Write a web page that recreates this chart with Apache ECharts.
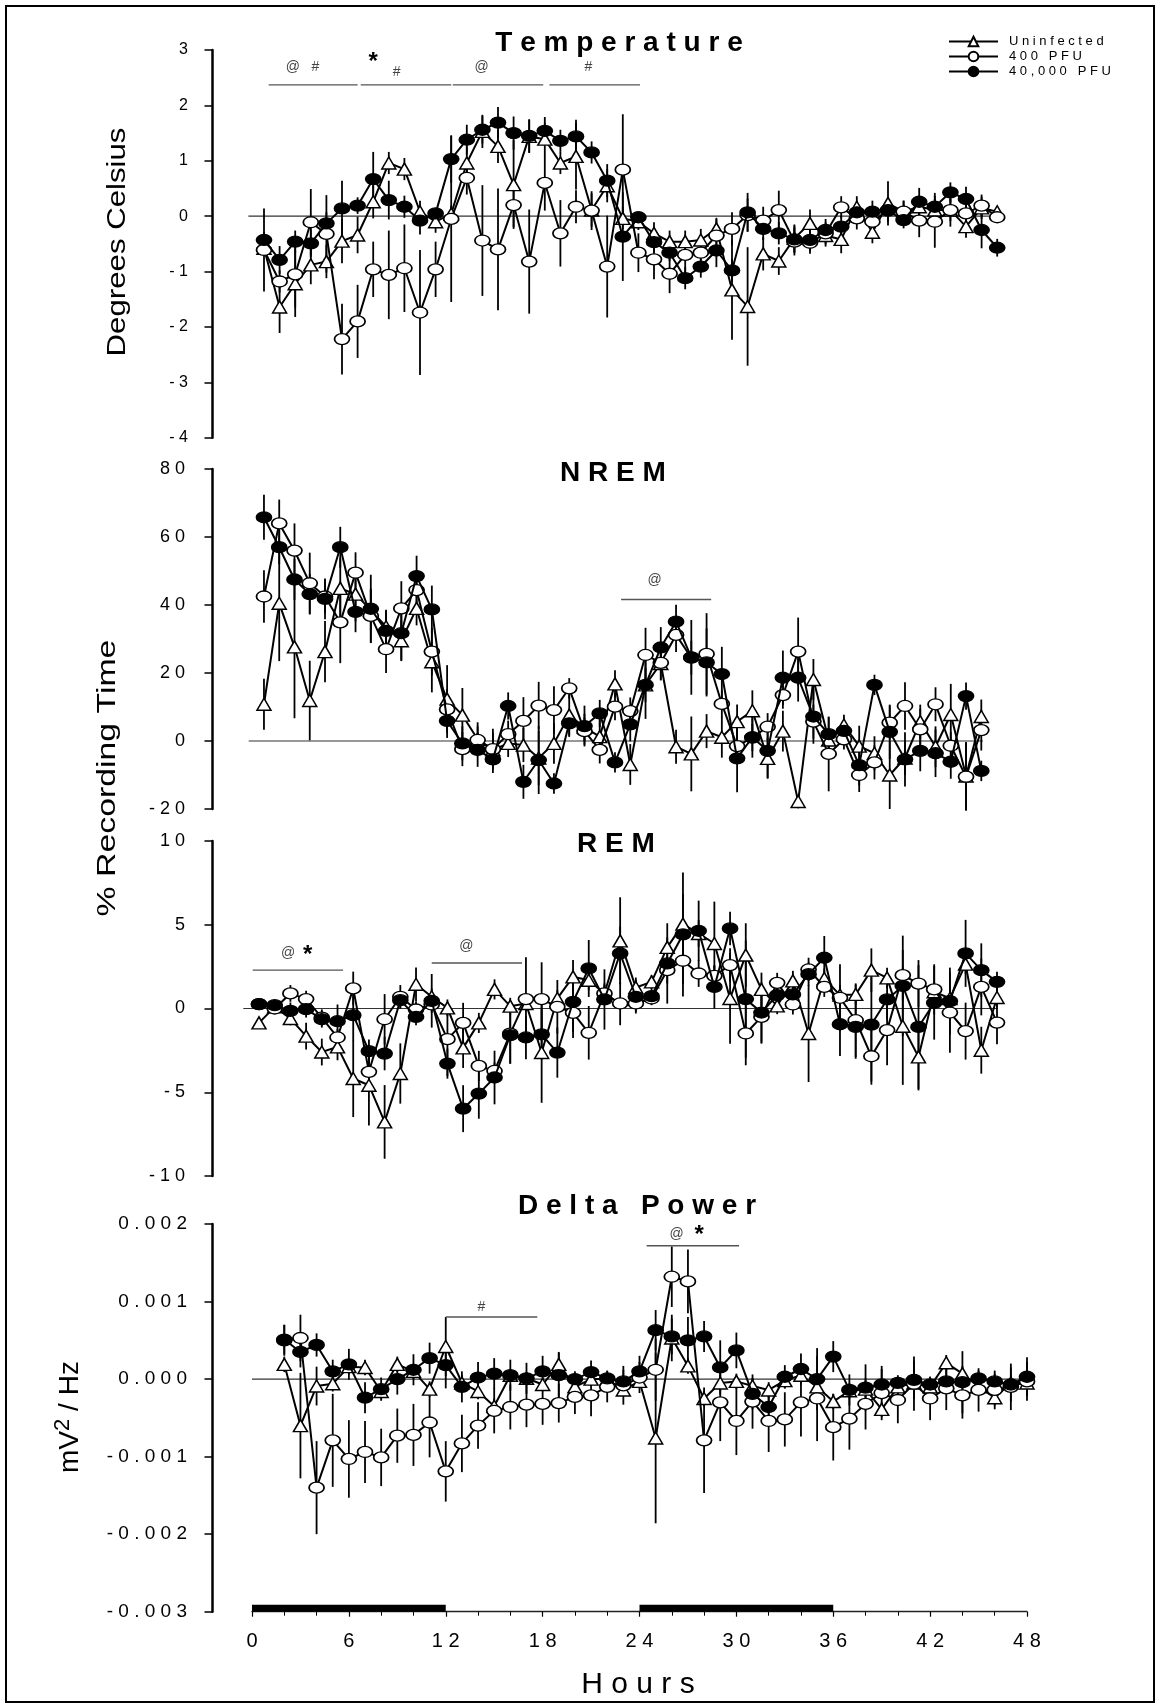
<!DOCTYPE html>
<html>
<head>
<meta charset="utf-8">
<script src="https://cdn.jsdelivr.net/npm/echarts@6/dist/echarts.min.js"></script>
<style>
  html, body { margin: 0; padding: 0; background: #fff; }
  #chart { width: 1157px; height: 1705px; }
</style>
</head>
<body>
<div id="chart"></div>
<script>
// ---- sampling times (hours post infection) ----
const hours = [1,2,3,4,5,6,7,8,9,10,11,12,13,14,15,16,17,18,19,20,21,22,23,24,
               25,26,27,28,29,30,31,32,33,34,35,36,37,38,39,40,41,42,43,44,45,46,47,48];
const deltaHours = [2,3,4,5,6,7,8,9,10,11,12,13,14,15,16,17,18,19,20,21,22,23,24,
                    25,26,27,28,29,30,31,32,33,34,35,36,37,38,39,40,41,42,43,44,45,46,47,48];
const groupNames = ['Uninfected', '400 PFU', '40,000 PFU'];
const hourTicks = [0, 6, 12, 18, 24, 30, 36, 42, 48];
const darkPeriods = [[0, 12], [24, 36]];

// ---- Temperature (degrees Celsius, change from baseline) ----
const tempUninfected = [-0.58,-1.64,-1.22,-0.88,-0.82,-0.45,-0.34,0.26,0.96,0.85,
  0.08,-0.10,0.04,0.96,1.53,1.26,0.57,1.44,1.39,0.96,
  1.08,0.11,0.55,-0.04,-0.10,-0.31,-0.46,-0.46,-0.43,-0.23,
  -1.33,-1.63,-0.68,-0.81,-0.40,-0.13,-0.35,-0.42,0.16,-0.29,
  0.23,0.08,0.17,0.11,0.11,-0.19,0.15,0.08];
const temp400 = [-0.61,-1.18,-1.05,-0.11,-0.32,-2.22,-1.90,-0.96,-1.06,-0.94,
  -1.74,-0.96,-0.05,0.69,-0.44,-0.60,0.20,-0.82,0.60,-0.31,
  0.17,0.10,-0.91,0.84,-0.66,-0.78,-1.04,-0.70,-0.66,-0.35,
  -0.23,0.02,-0.08,0.11,-0.46,-0.48,-0.31,0.16,-0.04,-0.10,
  0.11,0.08,-0.08,-0.10,0.11,0.05,0.19,-0.02];
const temp40000 = [-0.43,-0.79,-0.46,-0.49,-0.13,0.14,0.19,0.67,0.29,0.17,
  -0.08,0.05,1.03,1.38,1.56,1.69,1.50,1.45,1.54,1.36,
  1.44,1.15,0.64,-0.37,-0.02,-0.47,-0.66,-1.12,-0.91,-0.62,
  -0.98,0.07,-0.23,-0.31,-0.42,-0.43,-0.25,-0.19,0.07,0.08,
  0.10,-0.07,0.26,0.17,0.43,0.31,-0.25,-0.57];
const tempUninfectedSem = [0.10,0.47,0.60,0.35,0.30,0.40,0.33,0.30,0.20,0.20,
  0.20,0.20,0.15,0.30,0.30,0.30,0.80,0.30,0.30,0.20,
  0.60,0.30,0.30,0.20,0.15,0.20,0.20,0.20,0.20,0.20,
  0.90,1.07,0.30,0.25,0.25,0.25,0.20,0.25,0.20,0.20,
  0.40,0.20,0.20,0.20,0.20,0.20,0.20,0.10];
const temp400Sem = [0.75,0.20,0.60,0.60,0.70,0.64,0.66,0.50,0.80,0.79,
  1.13,0.50,1.50,0.30,1.00,1.10,0.40,0.94,0.50,0.60,
  0.30,0.35,0.92,1.00,0.35,0.36,0.35,0.35,0.30,0.30,
  0.30,0.30,0.25,0.35,0.25,0.20,0.20,0.20,0.20,0.20,
  0.20,0.20,0.30,0.47,0.30,0.20,0.20,0.10];
const temp40000Sem = [0.15,0.25,0.20,0.25,0.20,0.50,0.15,0.49,0.35,0.20,
  0.25,0.10,0.43,0.27,0.25,0.28,0.30,0.30,0.25,0.20,
  0.30,0.20,0.30,0.80,0.10,0.20,0.15,0.20,0.20,0.30,
  0.20,0.35,0.20,0.20,0.25,0.20,0.20,0.20,0.20,0.20,
  0.20,0.15,0.25,0.25,0.18,0.22,0.33,0.16];

// ---- NREM sleep (% recording time, change from baseline) ----
const nremUninfected = [10.8,40.5,27.7,11.9,26.3,44.9,43.2,38.5,33.6,29.5,
  39.0,23.3,12.3,7.6,0.5,-2.6,-0.7,-1.2,-5.0,-0.7,
  7.6,4.0,1.3,16.8,-6.9,16.5,22.8,-1.7,-3.8,2.9,
  1.1,5.7,8.9,-5.1,2.9,-17.8,18.1,0.3,4.7,-1.5,
  -3.6,-10.0,-5.0,5.7,-1.7,7.8,-10.3,7.2];
const nrem400 = [42.5,64.0,56.0,46.4,42.5,34.9,49.5,36.8,27.0,39.0,
  44.4,26.3,9.3,-2.4,0.3,-2.4,2.0,5.9,10.4,9.1,
  15.5,2.9,-2.6,10.1,8.8,25.3,23.0,31.2,24.5,25.6,
  10.9,-1.5,1.0,4.2,13.5,26.3,5.7,-3.8,0.5,-10.0,
  -6.3,5.4,10.3,3.4,10.8,-1.4,-10.5,3.2];
const nrem40000 = [65.8,57.0,47.5,43.2,41.8,57.0,38.0,38.9,32.4,31.7,
  48.5,38.7,5.9,-0.7,-2.6,-5.4,10.3,-12.0,-5.6,-12.5,
  5.2,4.4,8.1,-6.3,4.9,16.5,27.5,35.1,24.6,23.1,
  19.7,-5.1,1.1,-2.9,18.6,18.6,7.2,2.0,3.0,-7.1,
  16.5,2.7,-5.4,-2.9,-3.6,-6.1,13.2,-8.8];
const nremUninfectedSem = [7.5,17,21,11.7,9,9,8,6,5,6,
  5,9,10,8,5,5,4,5,8,6,
  6,4,5,4,6,5,5,5,11,5,
  6,5,6,6,6,2,6,3,3,6,
  5,10,5,5,6,9,10,5];
const nrem400Sem = [7.7,7,8,9,5,12,6,8,7,8,
  5,7,6,5,4,6,4,7,7,7,
  3,4,4,4,4,8,5,5,5,12,
  4,5,4,4,4,10,5,11,3,5,
  5,5,7,6,5,4,10,6];
const nrem40000Sem = [6.6,5,6,6,6,6,6,10,6,8,
  6,7,5,5,5,4,4,5,10,3,
  4,6,4,3,5,10,6,5,11,10,
  8,10,6,8,8,7,8,5,3,6,
  3,8,8,6,7,5,4,3];

// ---- REM sleep (% recording time, change from baseline) ----
const remUninfected = [-0.86,0.10,-0.60,-1.65,-2.60,-2.29,-4.18,-4.58,-6.77,-3.88,
  1.45,0.70,0.04,-2.35,-0.86,1.14,0.14,0.30,-2.63,0.60,
  1.89,1.69,0.90,4.04,1.25,1.59,3.65,5.04,4.48,3.88,
  0.60,3.19,1.14,0.16,1.65,-1.49,1.79,0.80,0.84,2.29,
  1.83,-1.06,-2.89,1.00,0.60,2.65,-2.49,0.66];
const rem400 = [0.26,0.00,0.90,0.56,-0.55,-1.73,1.20,-3.78,-0.64,0.70,
  -0.06,0.24,-1.83,-0.86,-3.43,-3.73,-1.50,0.56,0.56,0.10,
  -0.26,-1.45,0.90,0.30,0.30,0.60,2.29,2.85,2.09,1.95,
  2.59,-1.49,-0.50,1.53,0.24,2.33,1.29,0.64,-0.70,-2.85,
  -1.29,1.99,1.49,1.14,-0.24,-1.35,1.29,-0.84];
const rem40000 = [0.26,0.20,-0.14,-0.04,-0.64,-0.76,-0.40,-2.55,-2.69,0.50,
  -0.50,0.46,-3.29,-5.98,-5.08,-4.12,-1.59,-1.73,-1.55,-2.63,
  0.40,2.39,0.54,3.29,0.70,0.74,2.69,4.42,4.64,1.29,
  4.78,0.56,-0.24,0.80,0.84,2.05,3.03,-0.94,-1.10,-0.96,
  0.54,1.35,-1.10,0.34,0.44,3.29,2.29,1.59];
const remUninfectedSem = [0.3,0.3,0.4,0.8,0.8,0.8,2.3,2.4,2.2,1.8,
  1.0,0.5,0.5,1.2,0.6,0.6,0.5,0.5,3.0,0.5,
  1.0,0.6,0.5,2.6,0.6,0.4,0.6,1.8,0.8,2.5,
  2.7,1.9,1.0,0.5,0.6,2.9,0.6,0.6,0.6,1.3,
  0.6,3.5,2.0,0.6,0.6,0.6,1.4,0.6];
const rem400Sem = [0.3,0.3,0.5,0.5,0.5,0.5,1.0,1.2,1.5,0.7,
  0.5,0.5,2.2,1.2,0.9,0.5,1.8,2.5,2.2,1.6,
  1.5,1.6,0.6,1.3,0.5,0.4,0.8,1.4,0.8,0.6,
  1.0,1.9,1.6,0.6,0.6,0.7,0.6,2.0,2.2,1.7,
  2.1,1.5,1.4,1.5,2.4,1.7,1.7,1.3];
const rem40000Sem = [0.3,0.3,0.5,0.5,0.5,1.0,1.5,0.7,1.0,0.5,
  0.5,1.6,0.9,1.4,1.5,1.6,1.7,1.3,1.5,1.5,
  1.8,1.7,1.8,1.6,1.0,0.5,2.4,3.7,1.8,1.3,
  1.0,3.5,1.8,0.5,1.0,0.7,1.3,1.9,1.9,3.4,
  1.2,3.0,3.7,2.2,2.0,2.0,1.6,0.6];

// ---- EEG delta power (mV^2/Hz, change from baseline) ----
const deltaUninfected = [0.00019,-0.00060,-0.00009,-0.00006,0.00016,0.00015,-0.00016,0.00019,0.00010,-0.00013,
  0.00042,-0.00005,-0.00016,-0.00035,0.00005,0.00001,-0.00007,0.00019,-0.00010,0.00000,
  0.00000,-0.00014,-0.00003,-0.00076,0.00053,0.00017,-0.00025,-0.00005,-0.00003,-0.00009,
  -0.00014,-0.00002,0.00005,-0.00010,-0.00029,-0.00015,-0.00013,-0.00039,-0.00010,-0.00005,
  -0.00010,0.00021,0.00007,-0.00010,-0.00024,-0.00005,-0.00005];
const delta400 = [0.00050,0.00053,-0.00140,-0.00079,-0.00103,-0.00094,-0.00101,-0.00073,-0.00072,-0.00056,
  -0.00119,-0.00083,-0.00060,-0.00041,-0.00036,-0.00033,-0.00032,-0.00031,-0.00023,-0.00021,
  -0.00010,-0.00008,0.00002,0.00012,0.00132,0.00126,-0.00079,-0.00030,-0.00054,-0.00029,
  -0.00054,-0.00052,-0.00030,-0.00025,-0.00062,-0.00051,-0.00032,-0.00018,-0.00027,-0.00006,
  -0.00025,-0.00012,-0.00021,-0.00014,-0.00014,-0.00010,-0.00003];
const delta40000 = [0.00051,0.00035,0.00044,0.00010,0.00019,-0.00024,-0.00013,0.00000,0.00012,0.00027,
  0.00018,-0.00010,0.00002,0.00007,0.00005,0.00001,0.00010,0.00005,0.00000,0.00009,
  0.00001,-0.00003,0.00010,0.00063,0.00055,0.00050,0.00055,0.00015,0.00037,-0.00019,
  -0.00036,0.00003,0.00013,0.00000,0.00029,-0.00014,-0.00011,-0.00007,-0.00005,-0.00001,
  -0.00007,-0.00003,-0.00004,0.00001,-0.00003,-0.00007,0.00003];
const deltaUninfectedSem = [0.00010,0.00068,0.00025,0.00010,0.00010,0.00010,0.00010,0.00010,0.00010,0.00010,
  0.00038,0.00010,0.00010,0.00010,0.00008,0.00008,0.00008,0.00015,0.00008,0.00008,
  0.00008,0.00008,0.00008,0.00110,0.00030,0.00010,0.00010,0.00010,0.00010,0.00010,
  0.00010,0.00010,0.00010,0.00010,0.00010,0.00010,0.00010,0.00010,0.00010,0.00010,
  0.00010,0.00010,0.00010,0.00010,0.00010,0.00010,0.00010];
const delta400Sem = [0.00020,0.00030,0.00060,0.00060,0.00050,0.00040,0.00037,0.00035,0.00040,0.00045,
  0.00039,0.00037,0.00030,0.00029,0.00029,0.00029,0.00027,0.00025,0.00022,0.00027,
  0.00020,0.00025,0.00020,0.00040,0.00039,0.00041,0.00068,0.00050,0.00044,0.00035,
  0.00040,0.00035,0.00044,0.00055,0.00043,0.00040,0.00033,0.00035,0.00030,0.00035,
  0.00028,0.00028,0.00030,0.00028,0.00025,0.00030,0.00025];
const delta40000Sem = [0.00019,0.00020,0.00015,0.00015,0.00020,0.00020,0.00015,0.00020,0.00020,0.00020,
  0.00030,0.00020,0.00020,0.00020,0.00020,0.00020,0.00020,0.00030,0.00010,0.00015,
  0.00010,0.00015,0.00020,0.00026,0.00023,0.00030,0.00020,0.00035,0.00023,0.00020,
  0.00020,0.00015,0.00020,0.00040,0.00020,0.00020,0.00030,0.00020,0.00010,0.00025,
  0.00010,0.00015,0.00040,0.00010,0.00010,0.00022,0.00025];

// ---- significance brackets: [from hour, to hour, level] and labels: [hour, level, mark] ----
const tempSigBars = [[1.3, 7.0, 2.37], [7.2, 13.0, 2.37], [13.1, 18.9, 2.37], [19.3, 25.1, 2.37]];
const tempSigMarks = [[2.85, 2.69, '@'], [4.3, 2.69, '#'], [8.0, 2.78, '*'], [9.5, 2.60, '#'], [14.95, 2.69, '@'], [21.8, 2.69, '#']];
const nremSigBars = [[24.4, 30.3, 41.6]];
const nremSigMarks = [[26.6, 47.4, '@']];
const remSigBars = [[0.6, 6.35, 2.29], [12.0, 17.75, 2.72]];
const remSigMarks = [[2.85, 3.3, '@'], [4.1, 3.15, '*'], [14.2, 3.72, '@']];
const deltaSigBars = [[12.0, 17.67, 0.0008], [24.44, 30.17, 0.00172]];
const deltaSigMarks = [[14.2, 0.00093, '#'], [26.3, 0.00187, '@'], [27.7, 0.00185, '*']];

// ---------------------------------------------------------------------------
const FONT = '"Liberation Sans", Arial, Helvetica, sans-serif';
const spaced = s => String(s).split('').join(' ');

const panels = [
  { grid: {left: 248.4, top: 50, width: 748.8, height: 387.7},
    y: {min: -4, max: 3, interval: 1, font: 16, margin: 24.5, fmt: v => spaced(String(v))},
    x: hours, vals: [tempUninfected, temp400, temp40000],
    sems: [tempUninfectedSem, temp400Sem, temp40000Sem],
    bars: tempSigBars, marks: tempSigMarks },
  { grid: {left: 248.7, top: 469, width: 732.6, height: 340},
    y: {min: -20, max: 80, interval: 20, font: 18, margin: 27.5, fmt: v => spaced(String(v))},
    x: hours, vals: [nremUninfected, nrem400, nrem40000],
    sems: [nremUninfectedSem, nrem400Sem, nrem40000Sem],
    bars: nremSigBars, marks: nremSigMarks },
  { grid: {left: 243.3, top: 841, width: 753.7, height: 335},
    y: {min: -10, max: 10, interval: 5, font: 18, margin: 27.5, fmt: v => spaced(String(v))},
    x: hours, vals: [remUninfected, rem400, rem40000],
    sems: [remUninfectedSem, rem400Sem, rem40000Sem],
    bars: remSigBars, marks: remSigMarks },
  { grid: {left: 252, top: 1224, width: 775, height: 387.7},
    y: {min: -0.003, max: 0.002, interval: 0.001, font: 19, margin: 25.5, fmt: v => spaced(Number(v).toFixed(3))},
    x: deltaHours, vals: [deltaUninfected, delta400, delta40000],
    sems: [deltaUninfectedSem, delta400Sem, delta40000Sem],
    bars: deltaSigBars, marks: deltaSigMarks }
];

const AXIS_X = 212.5;  // common position of the left value axes

const symbolStyles = [
  { symbol: 'triangle', symbolSize: [14, 12], itemStyle: {color: '#fff', borderColor: '#000', borderWidth: 1.5} },
  { symbol: 'circle',   symbolSize: [15, 11], itemStyle: {color: '#fff', borderColor: '#000', borderWidth: 1.5} },
  { symbol: 'circle',   symbolSize: [15, 11], itemStyle: {color: '#000', borderColor: '#000', borderWidth: 1.5} }
];

const grid = [], xAxis = [], yAxis = [], series = [];

panels.forEach((p, gi) => {
  grid.push(Object.assign({containLabel: false}, p.grid));
  const isBottom = gi === panels.length - 1;
  xAxis.push({
    gridIndex: gi, type: 'value', min: 0, max: 48, interval: 6, show: isBottom,
    axisLine: {show: true, onZero: false, lineStyle: {color: '#222', width: 1.3}},
    axisTick: {show: true, length: 5, lineStyle: {color: '#000', width: 1.2}},
    minorTick: {show: true, splitNumber: 3, length: 4, lineStyle: {color: '#000', width: 1}},
    splitLine: {show: false}, minorSplitLine: {show: false},
    axisLabel: {margin: 20, fontSize: 20, fontFamily: FONT, color: '#000',
      formatter: v => hourTicks.indexOf(v) >= 0 ? spaced(v) : ''}
  });
  yAxis.push({
    gridIndex: gi, type: 'value', min: p.y.min, max: p.y.max, interval: p.y.interval,
    offset: p.grid.left - AXIS_X,
    axisLine: {show: true, onZero: false, lineStyle: {color: '#000', width: 2.5}},
    axisTick: {show: true, length: 8, lineStyle: {color: '#000', width: 1.5}},
    splitLine: {show: false},
    axisLabel: {margin: p.y.margin, fontSize: p.y.font, fontFamily: FONT, color: '#000', formatter: p.y.fmt}
  });

  // zero reference line
  series.push({
    type: 'line', xAxisIndex: gi, yAxisIndex: gi, data: [[0, 0], [48.4, 0]],
    symbol: 'none', clip: false, silent: true, z: 1,
    lineStyle: {color: '#333', width: 1.1}
  });

  // error bars (mean ± SEM) for each group
  p.vals.forEach((vals, si) => {
    const sem = p.sems[si];
    series.push({
      type: 'custom', xAxisIndex: gi, yAxisIndex: gi, silent: true, z: 2, clip: false,
      data: p.x.map((h, i) => [h, vals[i], sem[i]]),
      encode: {x: 0, y: 1},
      renderItem: (params, api) => {
        const h = api.value(0), m = api.value(1), e = api.value(2);
        const a = api.coord([h, m + e]), b = api.coord([h, m - e]);
        return {type: 'line', shape: {x1: a[0], y1: a[1], x2: b[0], y2: b[1]},
                style: {stroke: '#000', lineWidth: 1.8}};
      }
    });
  });

  // group means
  p.vals.forEach((vals, si) => {
    series.push(Object.assign({
      type: 'line', name: groupNames[si], xAxisIndex: gi, yAxisIndex: gi,
      data: p.x.map((h, i) => [h, vals[i]]),
      showAllSymbol: true, z: 3 + si, silent: true, animation: false,
      lineStyle: {color: '#000', width: 2}
    }, symbolStyles[si]));
  });

  // significance brackets
  series.push({
    type: 'custom', xAxisIndex: gi, yAxisIndex: gi, silent: true, z: 6, clip: false,
    data: p.bars.map(b => [b[0], b[2], b[1]]),
    encode: {x: [0, 2], y: 1},
    renderItem: (params, api) => {
      const a = api.coord([api.value(0), api.value(1)]);
      const b = api.coord([api.value(2), api.value(1)]);
      return {type: 'line', shape: {x1: a[0], y1: a[1], x2: b[0], y2: b[1]},
              style: {stroke: '#555', lineWidth: 1.4}};
    }
  });
  series.push({
    type: 'custom', xAxisIndex: gi, yAxisIndex: gi, silent: true, z: 6, clip: false,
    data: p.marks.map(m => [m[0], m[1]]),
    encode: {x: 0, y: 1},
    renderItem: (params, api) => {
      const m = p.marks[params.dataIndex];
      const c = api.coord([m[0], m[1]]);
      const star = m[2] === '*';
      return {type: 'text', x: c[0], y: c[1],
              style: {text: m[2], fill: star ? '#000' : '#444',
                      font: (star ? 'bold 24px ' : '14px ') + FONT,
                      align: 'center', verticalAlign: 'middle'}};
    }
  });

  // light/dark periods under the time axis
  if (isBottom) {
    series.push({
      type: 'custom', xAxisIndex: gi, yAxisIndex: gi, silent: true, z: 7, clip: false,
      data: darkPeriods,
      encode: {x: [0, 1]},
      renderItem: (params, api) => {
        const a = api.coord([api.value(0), p.y.min]);
        const b = api.coord([api.value(1), p.y.min]);
        return {type: 'rect', shape: {x: a[0], y: a[1] - 7, width: b[0] - a[0], height: 7},
                style: {fill: '#000'}};
      }
    });
  }
});

const titleFont = 'bold 28px ' + FONT;
const option = {
  backgroundColor: '#fff',
  animation: false,
  grid, xAxis, yAxis, series,
  legend: {
    data: groupNames, orient: 'vertical', left: 948, top: 35, padding: 0,
    itemWidth: 49, itemHeight: 12, itemGap: 2,
    selectedMode: false,
    textStyle: {fontSize: 13, fontFamily: FONT, color: '#000', padding: [0, 0, 0, 6]},
    formatter: n => spaced(n)
  },
  graphic: [
    {type: 'rect', silent: true, shape: {x: 6, y: 6, width: 1148, height: 1696},
     style: {fill: 'none', stroke: '#000', lineWidth: 2}},
    {type: 'text', x: 619, y: 43, style: {text: spaced('Temperature'), font: titleFont, fill: '#000', align: 'center', verticalAlign: 'middle'}},
    {type: 'text', x: 613, y: 473, style: {text: spaced('NREM'), font: titleFont, fill: '#000', align: 'center', verticalAlign: 'middle'}},
    {type: 'text', x: 616, y: 844, style: {text: spaced('REM'), font: titleFont, fill: '#000', align: 'center', verticalAlign: 'middle'}},
    {type: 'text', x: 637, y: 1206, style: {text: 'D e l t a   P o w e r', font: titleFont, fill: '#000', align: 'center', verticalAlign: 'middle'}},
    {type: 'text', x: 118, y: 242, rotation: Math.PI / 2, scaleX: 1.2,
     style: {text: 'Degrees Celsius', font: '26px ' + FONT, fill: '#000', align: 'center', verticalAlign: 'middle'}},
    {type: 'text', x: 108, y: 778, rotation: Math.PI / 2, scaleX: 1.3,
     style: {text: '% Recording Time', font: '26px ' + FONT, fill: '#000', align: 'center', verticalAlign: 'middle'}},
    {type: 'text', x: 70, y: 1417, rotation: Math.PI / 2,
     style: {text: '{a|mV}{s|2}{a| / Hz}', fill: '#000', align: 'center', verticalAlign: 'middle',
             rich: {a: {font: '28px ' + FONT, fill: '#000'},
                    s: {font: '22px ' + FONT, fill: '#000', verticalAlign: 'bottom', padding: [0, 0, 14, 0]}}}},
    {type: 'text', x: 638, y: 1685, style: {text: spaced('Hours'), font: '30px ' + FONT, fill: '#000', align: 'center', verticalAlign: 'middle'}}
  ]
};

const chart = echarts.init(document.getElementById('chart'), null, {renderer: 'canvas'});
chart.setOption(option);
</script>
</body>
</html>
